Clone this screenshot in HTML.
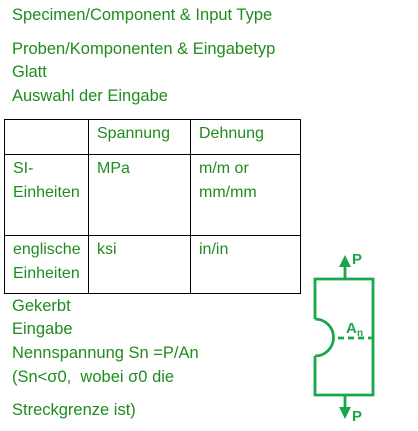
<!DOCTYPE html>
<html><head><style>
body{margin:0;width:418px;height:431px;background:#fff;position:relative;font-family:"Liberation Sans",sans-serif;color:#1e8c1e;font-size:16.5px;overflow:hidden}
.t{position:absolute;left:12px;white-space:nowrap}
table{position:absolute;left:4px;top:119px;border-collapse:collapse;width:297px;table-layout:fixed;font-size:16px}
td{border:1.5px solid #000;vertical-align:top;padding:2px 0 0 8px;line-height:24px;white-space:nowrap}
</style></head><body>
<div class="t" style="top:6px">Specimen/Component &amp; Input Type</div>
<div class="t" style="top:40px">Proben/Komponenten &amp; Eingabetyp</div>
<div class="t" style="top:63px">Glatt</div>
<div class="t" style="top:87px">Auswahl der Eingabe</div>
<table>
<colgroup><col style="width:84px"><col style="width:102px"><col></colgroup>
<tr style="height:35px"><td></td><td>Spannung</td><td>Dehnung</td></tr>
<tr style="height:81px"><td>SI-<br>Einheiten</td><td>MPa</td><td>m/m or<br>mm/mm</td></tr>
<tr style="height:58px"><td>englische<br>Einheiten</td><td>ksi</td><td>in/in</td></tr>
</table>
<div class="t" style="top:297px">Gekerbt</div>
<div class="t" style="top:320px">Eingabe</div>
<div class="t" style="top:344px">Nennspannung Sn =P/An</div>
<div class="t" style="top:368px">(Sn&lt;σ0,&nbsp; wobei σ0 die</div>
<div class="t" style="top:401px">Streckgrenze ist)</div>
<svg style="position:absolute;left:0;top:0" width="418" height="431">
<g stroke="#1aa64a" stroke-width="2.8" fill="none">
<path d="M315 319 V279 H373 V395 H315 V356"/>
<path d="M315 319 A18.5 18.5 0 0 1 315 356"/>
<path d="M338 338 H373" stroke-dasharray="6,4"/>
<path d="M345 279 V266"/>
<path d="M345 395 V408"/>
</g>
<polygon points="339,267 351,267 345,255" fill="#1aa64a"/>
<polygon points="339,407 351,407 345,419" fill="#1aa64a"/>
<g fill="#1aa64a" font-family="Liberation Sans" font-weight="bold">
<text x="352" y="264" font-size="15">P</text>
<text x="352" y="421" font-size="15">P</text>
<text x="346" y="333" font-size="15">A</text>
<text x="357" y="336" font-size="10">n</text>
</g>
</svg>
</body></html>
